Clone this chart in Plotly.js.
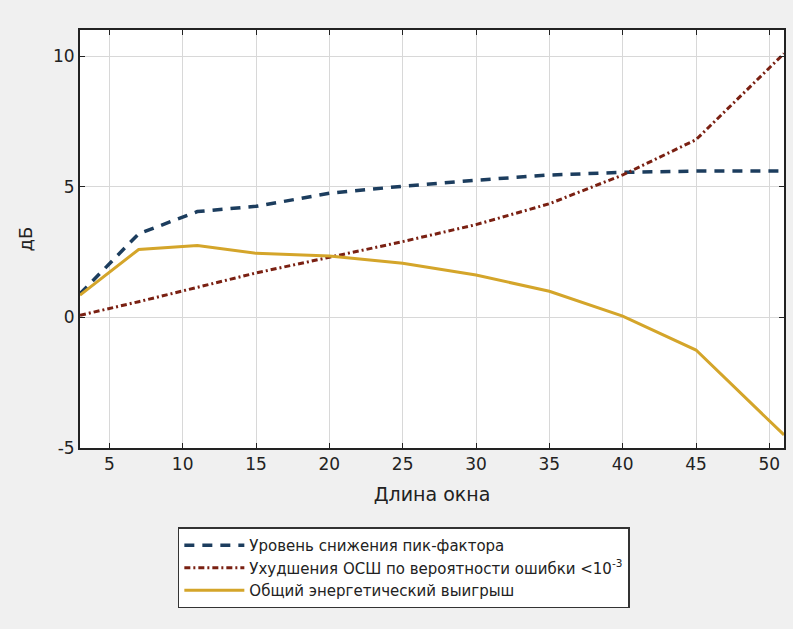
<!DOCTYPE html>
<html>
<head>
<meta charset="utf-8">
<script src="https://cdn.plot.ly/plotly-3.0.1.min.js"></script>
<style>html,body{margin:0;padding:0;background:#f0f0f0;}#chart{width:793px;height:629px;}</style>
</head>
<body>
<div id="chart"></div>
<script>
const windowLength = [3, 7, 11, 15, 20, 25, 30, 35, 40, 45, 51];
const crestReduction = [0.9, 3.2, 4.05, 4.25, 4.75, 5.02, 5.25, 5.45, 5.55, 5.6, 5.6];
const snrDegradation = [0.08, 0.6, 1.15, 1.7, 2.3, 2.9, 3.55, 4.35, 5.45, 6.8, 10.1];
const totalGain = [0.85, 2.6, 2.75, 2.45, 2.35, 2.07, 1.62, 1.0, 0.05, -1.25, -4.5];
const seriesNames = [
  'Уровень снижения пик-фактора',
  'Ухудшения ОСШ по вероятности ошибки <10<sup>-3</sup>',
  'Общий энергетический выигрыш'
];
const xTicks = [5, 10, 15, 20, 25, 30, 35, 40, 45, 50];
const yTicks = [-5, 0, 5, 10];
const yTickLabels = ['-5', '0', '5', '10'];

const traces = [
  {x: windowLength, y: crestReduction, name: seriesNames[0], mode: 'lines',
   line: {color: '#1c3d5e', width: 3.5, dash: '10px,8px'}},
  {x: windowLength, y: snrDegradation, name: seriesNames[1], mode: 'lines',
   line: {color: '#7a2012', width: 3, dash: '6px,3px,2px,3px'}},
  {x: windowLength, y: totalGain, name: seriesNames[2], mode: 'lines',
   line: {color: '#d4a52a', width: 3}}
];

const layout = {
  width: 793, height: 629,
  paper_bgcolor: '#f0f0f0', plot_bgcolor: '#ffffff',
  font: {family: 'DejaVu Sans, sans-serif', size: 16, color: '#222'},
  margin: {l: 80, r: 9, t: 30, b: 181},
  showlegend: true,
  legend: {x: 0.46, y: -0.19, xanchor: 'center', yanchor: 'top',
    bgcolor: '#ffffff', bordercolor: '#333', borderwidth: 1.5,
    font: {size: 15, color: '#222'}, tracegroupgap: 0, itemwidth: 60},
  xaxis: {range: [3, 51], tickvals: xTicks, ticks: 'inside', ticklen: 5,
    tickcolor: '#222', mirror: 'ticks', showline: true, linecolor: '#222', linewidth: 2,
    showgrid: true, gridcolor: '#d8d8d8', zeroline: false,
    tickfont: {size: 17},
    title: {text: 'Длина окна', font: {size: 19}, standoff: 14}},
  yaxis: {range: [-5, 11], tickvals: yTicks, ticktext: yTickLabels, ticks: 'inside', ticklen: 5,
    tickcolor: '#222', mirror: 'ticks', showline: true, linecolor: '#222', linewidth: 2,
    showgrid: true, gridcolor: '#d8d8d8', zeroline: false,
    tickfont: {size: 17},
    title: {text: 'дБ', font: {size: 18}, standoff: 16}}
};

Plotly.newPlot('chart', traces, layout, {displayModeBar: false});
</script>
</body>
</html>
